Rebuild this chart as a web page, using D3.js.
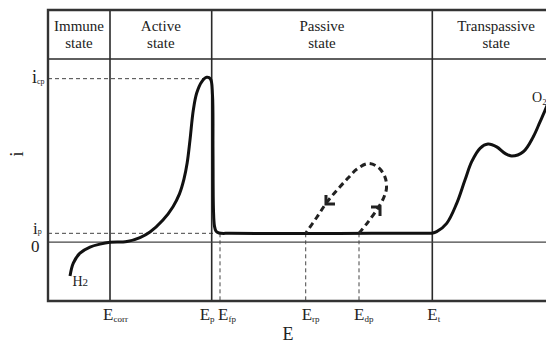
<!DOCTYPE html>
<html>
<head>
<meta charset="utf-8">
<script src="https://cdn.jsdelivr.net/npm/d3@7"></script>
<style>
  body { margin: 0; background: #fff; }
</style>
</head>
<body>
<div class="canvas"></div>
<script>
// settings
const svgWidth = 546
const svgHeight = 343
const frame = {left: 48, right: 546, top: 10, bottom: 301}
const serif = "'Liberation Serif', 'Times New Roman', 'DejaVu Serif', serif"

// data (E in arbitrary potential units, i in arbitrary current units)
const stateNames = [["Immune", "state"], ["Active", "state"], ["Passive", "state"], ["Transpassive", "state"]]
const stateBounds = [0, 12.45, 32.87, 77.17, 102.8]
const headerI = 112

const potentialNames = ["corr", "p", "fp", "rp", "dp", "t"]
const potentialValues = [12.45, 32.87, 34.54, 51.75, 62.45, 77.17]
const potentialSolid = [true, true, false, false, false, true]

const i_cp = 100
const i_p = 5.4

// polarisation curve
const curveE = [4.42, 5.08, 6.43, 8.43, 10.44, 12.45, 15.86, 18.47, 20.48, 23.09, 25.1, 26.4, 27.3, 27.95, 28.51, 29.18, 29.86, 30.86, 31.87, 32.63,
  33.03, 33.13, 33.23, 33.43, 33.73, 34.34, 36.55, 45, 55, 65, 72, 75.5, 77.1,
  78.05, 80.06, 82.07, 83.73, 85.08, 86.75, 88.35, 90.1, 91.77, 93.11, 95.44, 97.45, 98.8, 100, 101.2]
const curveI = [-20.7, -12.8, -6.7, -3.0, -1.2, -0.1, 0.4, 2.8, 6.2, 13.5, 21.7, 29.5, 38.5, 48.5, 62.4, 80.8, 91.2, 98.1, 100.8, 99.8,
  90, 56.3, 19.6, 9.8, 6.8, 5.6, 5.4, 5.3, 5.3, 5.4, 5.4, 5.4, 5.5,
  6.4, 11.5, 23.7, 38.0, 49.2, 57.4, 60.0, 58.3, 54.3, 52.7, 55.3, 64.5, 73.6, 82, 91.8]

// pitting loop (dashed), starts at E_dp and returns to E_rp
const loopE = [62.45, 64.26, 66.27, 67.47, 67.97, 67.67, 66.27, 64.26, 62.05, 60.24, 58.23, 56.02, 54.02, 51.75]
const loopI = [5.4, 12.3, 20.9, 27.6, 33.1, 39.8, 45.9, 48.1, 44.7, 39.2, 32.5, 24.5, 15.4, 5.4]
const arrowE = [66.67, 55.82]
const arrowI = [21.5, 23.3]
const arrowAngle = [-45, 135]   // direction of travel, degrees (screen)

// add svg to page
const svg = d3.select(".canvas")
  .append("svg")
  .attr("width", svgWidth)
  .attr("height", svgHeight)
  .style("font-family", serif)

const x = d3.scaleLinear().domain([0, 100]).range([frame.left, frame.right])
const y = d3.scaleLinear().domain([-36, 142]).range([frame.bottom, frame.top])

const g = svg.append("g")

// header text
stateNames.forEach((lines, k) => {
  const cx = (x(stateBounds[k]) + x(stateBounds[k + 1])) / 2
  const t = g.append("text")
    .attr("text-anchor", "middle")
    .attr("font-family", serif)
    .attr("font-size", 15)
    .attr("fill", "#222")
  lines.forEach((s, j) => {
    t.append("tspan").attr("x", cx).attr("y", 30.5 + j * 17).text(s)
  })
})

// dashed guide lines
const guide = g.append("g")
  .attr("stroke", "#444")
  .attr("stroke-width", 1)
  .attr("stroke-dasharray", "4,3")
  .attr("fill", "none")

guide.append("line")
  .attr("x1", x(0)).attr("x2", x(31.4))
  .attr("y1", y(i_cp)).attr("y2", y(i_cp))
guide.append("line")
  .attr("x1", x(0)).attr("x2", x(33.3))
  .attr("y1", y(i_p)).attr("y2", y(i_p))

potentialValues.forEach((v, k) => {
  if (potentialSolid[k]) return
  guide.append("line")
    .attr("x1", x(v)).attr("x2", x(v))
    .attr("y1", y(i_p)).attr("y2", y(-36))
})

// solid lines
const solid = g.append("g").attr("stroke", "#2a2a2a").attr("fill", "none")

potentialValues.forEach((v, k) => {
  if (!potentialSolid[k]) return
  solid.append("line")
    .attr("x1", x(v)).attr("x2", x(v))
    .attr("y1", y(142)).attr("y2", y(-36))
    .attr("stroke-width", 1.6)
})

solid.append("line")
  .attr("x1", x(0)).attr("x2", x(100))
  .attr("y1", y(0)).attr("y2", y(0))
  .attr("stroke-width", 1.4)
  .attr("stroke", "#444")

solid.append("line")
  .attr("x1", x(0)).attr("x2", x(100))
  .attr("y1", y(headerI)).attr("y2", y(headerI))
  .attr("stroke-width", 1.6)

// frame (open on the right)
solid.append("path")
  .attr("d", `M${x(100)},${y(142)} H${x(0)} V${y(-36)} H${x(100)}`)
  .attr("stroke-width", 2.4)
  .attr("stroke", "#333")

// polarisation curve
const curveData = curveE.map((e, k) => ({E: e, i: curveI[k]}))
const line = d3.line()
  .x(d => x(d.E))
  .y(d => y(d.i))
  .curve(d3.curveCatmullRom.alpha(0.5))

g.append("path")
  .datum(curveData)
  .attr("d", line)
  .attr("fill", "none")
  .attr("stroke", "#111")
  .attr("stroke-width", 3)
  .attr("stroke-linejoin", "round")

// loop
const loopData = loopE.map((e, k) => ({E: e, i: loopI[k]}))
g.append("path")
  .datum(loopData)
  .attr("d", d3.line().x(d => x(d.E)).y(d => y(d.i)).curve(d3.curveCatmullRom))
  .attr("fill", "none")
  .attr("stroke", "#222")
  .attr("stroke-width", 3)
  .attr("stroke-dasharray", "6,4")

arrowE.forEach((e, k) => {
  const tx = x(e), ty = y(arrowI[k])
  const a = arrowAngle[k] * Math.PI / 180
  const len = 9
  const a1 = a + Math.PI - Math.PI / 4
  const a2 = a + Math.PI + Math.PI / 4
  g.append("path")
    .attr("d", `M${tx + len * Math.cos(a1)},${ty + len * Math.sin(a1)} L${tx},${ty} L${tx + len * Math.cos(a2)},${ty + len * Math.sin(a2)}`)
    .attr("fill", "none")
    .attr("stroke", "#222")
    .attr("stroke-width", 3)
})

// labels with subscripts
function subLabel(px, py, main, sub, size, subSize, subDy) {
  const t = g.append("text")
    .attr("x", px).attr("y", py)
    .attr("font-family", serif)
    .attr("font-size", size)
    .attr("fill", "#222")
  t.append("tspan").text(main)
  t.append("tspan").attr("font-size", subSize).attr("dy", subDy).text(sub)
  return t
}

const labelDx = {corr: -7, p: -12, fp: -2, rp: -4, dp: -5, t: -5}
potentialNames.forEach((n, k) => {
  subLabel(x(potentialValues[k]) + labelDx[n], 319.5, "E", n, 17, 9, 2)
})

subLabel(32, 83, "i", "cp", 18, 8, 1)
subLabel(33, 234, "i", "p", 17, 8, 0)
g.append("text")
  .attr("x", 31).attr("y", 252)
  .attr("font-family", serif)
  .attr("font-size", 17)
  .attr("fill", "#222")
  .text("0")

subLabel(x(4.9), y(-27), "H", "2", 14, 11, 0)
g.append("text")
  .attr("x", 532).attr("y", 102)
  .attr("font-family", serif)
  .attr("font-size", 14)
  .attr("fill", "#222")
  .text("O₂")

// axis titles
g.append("text")
  .attr("x", 288).attr("y", 340)
  .attr("text-anchor", "middle")
  .attr("font-family", serif)
  .attr("font-size", 18)
  .attr("fill", "#222")
  .text("E")

g.append("text")
  .attr("transform", "translate(23,154) rotate(-90)")
  .attr("text-anchor", "middle")
  .attr("font-family", serif)
  .attr("font-size", 19)
  .attr("fill", "#222")
  .text("i")
</script>
</body>
</html>
